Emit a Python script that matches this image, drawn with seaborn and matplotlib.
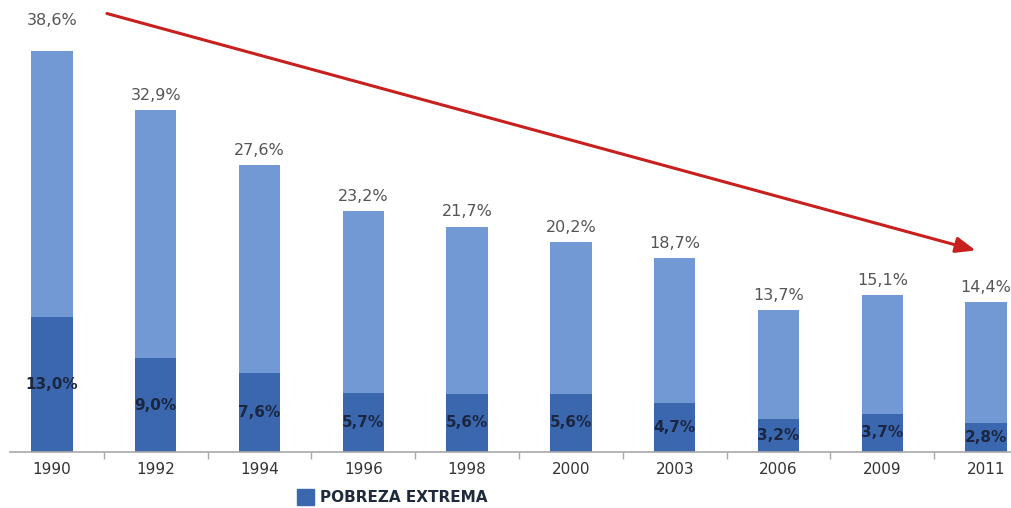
import matplotlib
matplotlib.use("Agg")
import matplotlib.pyplot as plt
from matplotlib.patches import Patch
from matplotlib.ticker import FixedLocator
import seaborn as sns
import pandas as pd

# Poverty rates by year (%)
years = ["1990", "1992", "1994", "1996", "1998", "2000", "2003", "2006", "2009", "2011"]
pobreza_total = [38.6, 32.9, 27.6, 23.2, 21.7, 20.2, 18.7, 13.7, 15.1, 14.4]
pobreza_extrema = [13.0, 9.0, 7.6, 5.7, 5.6, 5.6, 4.7, 3.2, 3.7, 2.8]
legend_label = "POBREZA EXTREMA"

df = pd.DataFrame({"year": years, "total": pobreza_total, "extrema": pobreza_extrema})

LIGHT = "#7399d4"
DARK = "#3b67ae"

sns.set_theme(style="white")
plt.rcParams["font.family"] = ["DejaVu Sans"]

fig = plt.figure(figsize=(10.11, 5.08), dpi=100)
# axes run slightly past the right edge of the figure
ax = fig.add_axes([10 / 1011, 56 / 508, 1028 / 1011, 452 / 508])

sns.barplot(data=df, x="year", y="total", color=LIGHT, width=0.4,
            saturation=1, linewidth=0, ax=ax)
sns.barplot(data=df, x="year", y="extrema", color=DARK, width=0.4,
            saturation=1, linewidth=0, ax=ax)

ax.set_xlim(-0.404, 9.5)
ax.set_ylim(0, 43.5)

# value labels (the first one sits higher, clear of the arrow tail)
for i, (t, e) in enumerate(zip(pobreza_total, pobreza_extrema)):
    off = 2.9 if i == 0 else 1.4
    ax.text(i, t + off, f"{t:.1f}%".replace(".", ","), ha="center", va="center",
            fontsize=11.5, color="#555555")
    ax.text(i, e / 2, f"{e:.1f}%".replace(".", ","), ha="center", va="center",
            fontsize=11, fontweight="bold", color="#1b2640")

# trend arrow
ax.annotate("", xy=(8.9, 19.4), xytext=(0.53, 42.2),
            arrowprops=dict(arrowstyle="-|>,head_length=1.0,head_width=0.4",
                            color="#c8201e", lw=2.2, shrinkA=0, shrinkB=0),
            annotation_clip=False)

# axes styling
for s in ["top", "right", "left"]:
    ax.spines[s].set_visible(False)
ax.spines["bottom"].set_color("#a8a8a8")
ax.spines["bottom"].set_linewidth(1.2)
ax.set_yticks([])
ax.set_xlabel("")
ax.set_ylabel("")
ax.tick_params(axis="x", which="major", length=0, pad=7, labelsize=11,
               labelcolor="#333333")
for lbl in ax.get_xticklabels():
    lbl.set_fontweight("medium")
ax.xaxis.set_minor_locator(FixedLocator([k + 0.5 for k in range(len(years))]))
ax.tick_params(axis="x", which="minor", length=5, width=1, color="#a8a8a8",
               direction="out", bottom=True)

fig.legend(handles=[Patch(facecolor=DARK, edgecolor=DARK, label=legend_label)],
           loc="center left", bbox_to_anchor=(283 / 1011, 11 / 508),
           frameon=False, handlelength=1.1, handleheight=1.3, handletextpad=0.4,
           prop={"size": 11, "weight": "bold"}, labelcolor="#1f2a3c")

fig.savefig("out.png", dpi=100)
